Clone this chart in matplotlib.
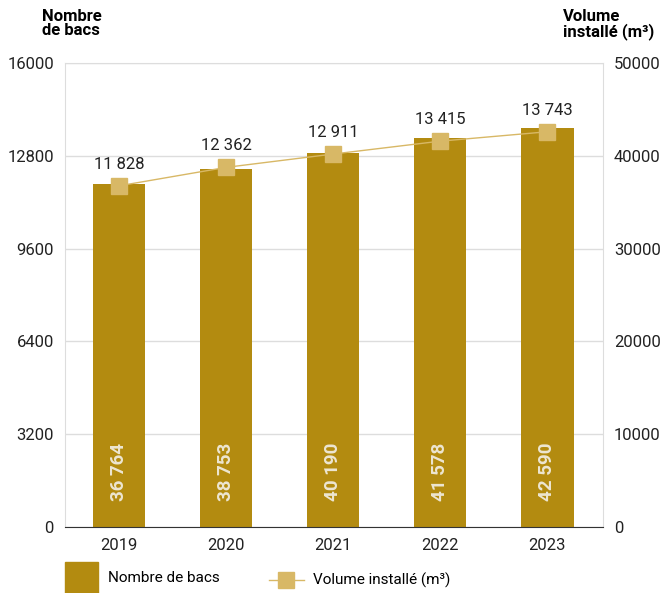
import numpy as np
import matplotlib.pyplot as plt
from matplotlib.patches import Rectangle
from matplotlib.lines import Line2D

plt.rcParams['font.family'] = ['Roboto', 'DejaVu Sans']

# données
annees = ["2019", "2020", "2021", "2022", "2023"]
nombre_bacs = [11828, 12362, 12911, 13415, 13743]
volume = [36764, 38753, 40190, 41578, 42590]
labels_barres = ["36 764", "38 753", "40 190", "41 578", "42 590"]
labels_ligne = ["11 828", "12 362", "12 911", "13 415", "13 743"]
ticks_gauche = [0, 3200, 6400, 9600, 12800, 16000]
ticks_droite = [0, 10000, 20000, 30000, 40000, 50000]

or_fonce = "#B38B10"
or_clair = "#D8B866"
gris = "#DDDDDD"

fig = plt.figure(figsize=(6.61, 5.93), dpi=100)
ax = fig.add_axes([65/661, 1-527/593, 538/661, 464/593])
x = np.arange(len(annees))

ax.bar(x, nombre_bacs, width=0.49, color=or_fonce, zorder=2)
ax.set_ylim(0, 16000)
ax.set_xlim(-0.505, 4.52)
ax.set_yticks(ticks_gauche)
ax.set_xticks(x)
ax.set_xticklabels(annees)
ax.grid(axis="y", color=gris, lw=1, zorder=0)
ax.tick_params(length=0, labelsize=12, colors="#222222")
ax.tick_params(axis="x", pad=8)
ax.tick_params(axis="y", pad=8)
for s in ["left", "top", "right"]:
    ax.spines[s].set_color(gris)
ax.spines["bottom"].set_color("#333333")

for xi, lab in zip(x, labels_barres):
    ax.text(xi, 900, lab, rotation=90, ha="center", va="bottom", color="#EDE6D2",
            fontsize=13.5, fontweight="bold", zorder=4)

ax2 = ax.twinx()
ax2.plot(x, volume, color=or_clair, lw=1, marker="s", markersize=11, zorder=3)
ax2.set_ylim(0, 50000)
ax2.set_yticks(ticks_droite)
ax2.tick_params(length=0, labelsize=12, colors="#222222", pad=8)
for s in ["left", "top", "right", "bottom"]:
    ax2.spines[s].set_visible(False)
for xi, v, lab in zip(x, volume, labels_ligne):
    ax2.text(xi, v + 1500, lab, ha="center", va="bottom", fontsize=12, color="#222222")

fig.text(42/661, 1-9/593, "Nombre\nde bacs", ha="left", va="top", fontsize=12,
         fontweight="bold", linespacing=0.95)
fig.text(563/661, 1-9/593, "Volume\ninstallé (m³)", ha="left", va="top", fontsize=12,
         fontweight="bold", linespacing=0.95)

# légende
fig.patches.append(Rectangle((65/661, 0), 33/661, 31/593, transform=fig.transFigure,
                             color=or_fonce))
fig.text(108/661, 1-578/593, "Nombre de bacs", ha="left", va="center", fontsize=11)
fig.lines.append(Line2D([269/661, 304/661], [1-580/593, 1-580/593], transform=fig.transFigure,
                        color=or_clair, lw=1))
fig.lines.append(Line2D([286/661], [1-580/593], transform=fig.transFigure,
                        color=or_clair, marker="s", markersize=11))
fig.text(313/661, 1-580/593, "Volume installé (m³)", ha="left", va="center", fontsize=11)

fig.savefig("out.png", dpi=100)
